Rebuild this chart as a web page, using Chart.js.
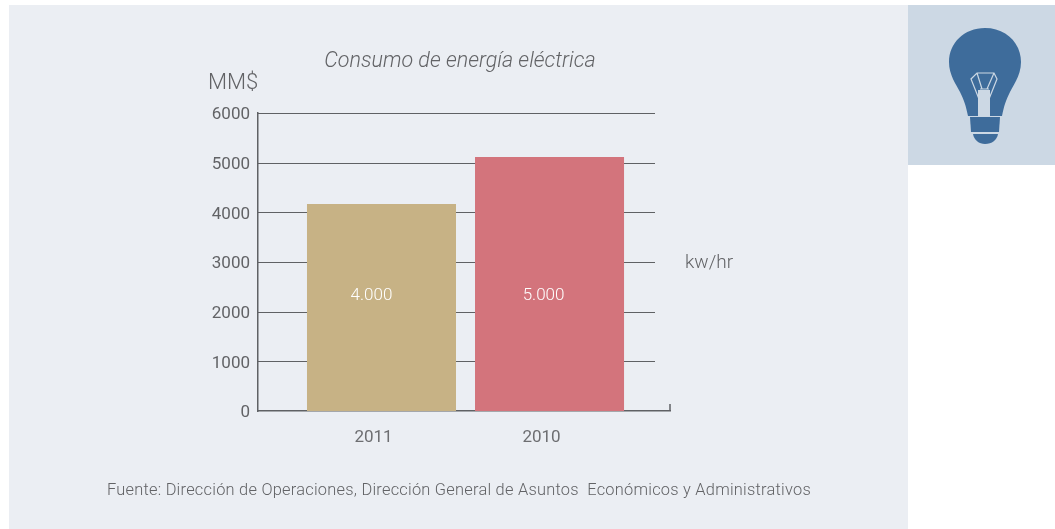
<!DOCTYPE html>
<html>
<head>
<meta charset="utf-8">
<title>Consumo de energía eléctrica</title>
<script src="https://cdn.jsdelivr.net/npm/chart.js@4/dist/chart.umd.min.js"></script>
<style>
  html, body { margin: 0; padding: 0; background: #fff; }
  #wrap { position: relative; width: 1055px; height: 529px; overflow: hidden; }
  #panel { position: absolute; left: 9px; top: 5px; width: 899px; height: 524px; background: #ebeef3; }
  #side { position: absolute; left: 908px; top: 5px; width: 147px; height: 160px; background: #ccd8e4; }
  #bulb { position: absolute; left: 908px; top: 5px; }
  canvas { position: absolute; left: 0; top: 0; }
</style>
</head>
<body>
<div id="wrap">
  <div id="panel"></div>
  <div id="side"></div>
  <svg id="bulb" width="147" height="160" viewBox="908 5 147 160">
    <path d="M985 28 C1006 28 1021 43 1021 62 C1021 75 1014 84 1010 92 C1006 100 1004 106 1002 116 L968 116 C966 106 964 100 960 92 C956 84 949 75 949 62 C949 43 964 28 985 28 Z" fill="#3e6c9b"/>
    <path d="M978 116 L978 90 L990 90 L990 116 Z" fill="#ccd8e4"/>
    <path d="M979 99 L971 79 L977 73 L994 73 L997 79 L989 99 M977 73 L982 89 M994 73 L987 89 M980 89 L989 89" fill="none" stroke="#ccd8e4" stroke-width="1.2"/>
    <path d="M970 117 L1000 117 L999 132 L971 132 Z" fill="#3e6c9b"/>
    <path d="M973 134 L998 134 C997 140 992 144 985 144 C979 144 974 140 973 134 Z" fill="#3e6c9b"/>
  </svg>
  <canvas id="grafico" width="1055" height="529"></canvas>
</div>
<script>
const categories = ['2011', '2010'];
const values = [4168, 5114];
const barLabels = ['4.000', '5.000'];
const barColors = ['#c7b285', '#d3747c'];
const yTicks = [0, 1000, 2000, 3000, 4000, 5000, 6000];
const chartTitle = 'Consumo de energía eléctrica';
const yUnit = 'MM$';
const xUnit = 'kw/hr';
const source = 'Fuente: Dirección de Operaciones, Dirección General de Asuntos  Económicos y Administrativos';

const lineColor = '#5f6164';
const textColor = '#626366';
const fontName = 'Roboto, "Open Sans", sans-serif';

// Lineas de la grilla, remates del eje y textos sueltos
const decoration = {
  id: 'decoration',
  beforeDatasetsDraw(chart) {
    const { ctx, chartArea, scales } = chart;
    ctx.save();
    ctx.strokeStyle = lineColor;
    ctx.lineWidth = 1;
    yTicks.forEach(t => {
      if (t === 0) return;
      const y = Math.round(scales.y.getPixelForValue(t)) + 0.5;
      ctx.beginPath();
      ctx.moveTo(chartArea.left, y);
      ctx.lineTo(chartArea.right - 15, y);
      ctx.stroke();
    });
    ctx.restore();
  },
  afterDraw(chart) {
    const { ctx, chartArea, scales } = chart;
    ctx.save();
    // remate del eje X
    ctx.strokeStyle = lineColor;
    ctx.lineWidth = 1.5;
    ctx.beginPath();
    ctx.moveTo(chartArea.right, chartArea.bottom);
    ctx.lineTo(chartArea.right, chartArea.bottom - 7);
    ctx.stroke();

    ctx.textBaseline = 'middle';
    ctx.textAlign = 'center';

    // valores dentro de las barras, un poco corridos a la izquierda como en el original
    ctx.fillStyle = '#ffffff';
    ctx.font = '300 17px ' + fontName;
    chart.getDatasetMeta(0).data.forEach((bar, i) => {
      ctx.fillText(barLabels[i], bar.x - (i === 0 ? 10 : 6), scales.y.getPixelForValue(2330));
    });

    ctx.fillStyle = textColor;
    ctx.font = 'italic 300 21.5px ' + fontName;
    ctx.fillText(chartTitle, 460, 62);

    ctx.textAlign = 'left';
    ctx.font = '300 22px ' + fontName;
    ctx.fillText(yUnit, 208, 83);

    ctx.font = '300 19px ' + fontName;
    ctx.fillText(xUnit, 685, scales.y.getPixelForValue(3000) + 1);

    ctx.font = '300 16.4px ' + fontName;
    ctx.letterSpacing = '0.24px';
    ctx.fillText(source, 107, 491);
    ctx.restore();
  }
};

new Chart(document.getElementById('grafico'), {
  type: 'bar',
  data: {
    datasets: [{
      data: categories.map((c, i) => ({ x: i, y: values[i] })),
      backgroundColor: barColors,
      borderWidth: 0,
      categoryPercentage: 149 / 168,
      barPercentage: 1
    }]
  },
  options: {
    responsive: false,
    animation: false,
    layout: { padding: { top: 113, right: 385, left: 0, bottom: 0 } },
    plugins: {
      legend: { display: false },
      title: { display: false },
      tooltip: { enabled: false }
    },
    scales: {
      x: {
        type: 'linear',
        offset: false,
        min: -0.735,
        max: 1.717,
        afterFit: s => { s.height = 118; },
        afterBuildTicks: s => { s.ticks = categories.map((c, i) => ({ value: i })); },
        grid: { display: false, drawTicks: false },
        border: { color: lineColor, width: 1.5 },
        ticks: {
          padding: 17,
          labelOffset: -8,
          autoSkip: false,
          maxRotation: 0,
          color: '#6d6e71',
          font: { family: fontName, size: 17, weight: 400 },
          callback: v => categories[v]
        }
      },
      y: {
        min: 0,
        max: 6000,
        afterFit: s => { s.width = 258; },
        afterBuildTicks: s => { s.ticks = yTicks.map(v => ({ value: v })); },
        grid: { display: false, drawTicks: false },
        border: { color: lineColor, width: 1.5 },
        ticks: {
          padding: 8,
          labelOffset: 2,
          color: textColor,
          font: { family: fontName, size: 17, weight: 400 },
          callback: v => String(v)
        }
      }
    }
  },
  plugins: [decoration]
});
</script>
</body>
</html>
